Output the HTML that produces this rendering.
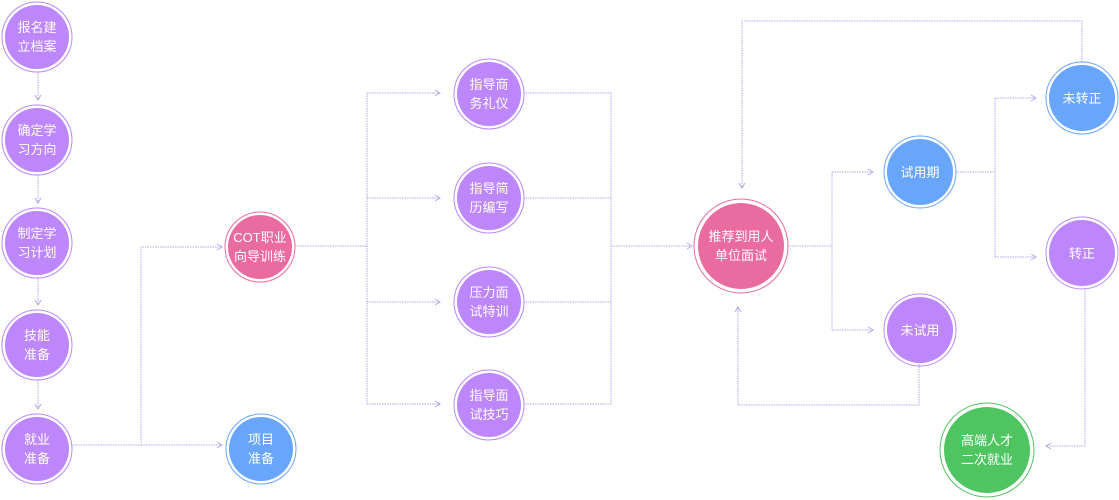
<!DOCTYPE html>
<html><head><meta charset="utf-8"><style>
html,body{margin:0;padding:0;background:#fff;width:1119px;height:500px;overflow:hidden}
text{font-family:"Liberation Sans","Noto Sans CJK SC",sans-serif;font-size:13px;fill:#fff;text-anchor:middle}
</style></head><body>
<svg width="1119" height="500" viewBox="0 0 1119 500">
<defs>
<marker id="a" markerWidth="8" markerHeight="8" refX="6" refY="4" orient="auto" markerUnits="userSpaceOnUse">
<polyline points="1,1 6,4 1,7" fill="none" stroke="#b3a6ee" stroke-width="1"/>
</marker>
</defs>
<g fill="none" stroke="#b3a6ee" stroke-width="1" stroke-dasharray="1.5,1">
<line x1="38" y1="72" x2="38" y2="100" marker-end="url(#a)"/>
<line x1="38" y1="175" x2="38" y2="203" marker-end="url(#a)"/>
<line x1="38" y1="278" x2="38" y2="305" marker-end="url(#a)"/>
<line x1="38" y1="380" x2="38" y2="409" marker-end="url(#a)"/>
<polyline points="73,445 141,445 141,247 222,247" marker-end="url(#a)"/>
<line x1="141" y1="445" x2="222" y2="445" marker-end="url(#a)"/>
<polyline points="295,246 367,246"/>
<line x1="367" y1="93" x2="367" y2="404"/>
<line x1="367" y1="93" x2="440" y2="93" marker-end="url(#a)"/>
<line x1="367" y1="198" x2="440" y2="198" marker-end="url(#a)"/>
<line x1="367" y1="302" x2="440" y2="302" marker-end="url(#a)"/>
<line x1="367" y1="404" x2="440" y2="404" marker-end="url(#a)"/>
<line x1="525" y1="93" x2="611" y2="93"/>
<line x1="525" y1="198" x2="611" y2="198"/>
<line x1="525" y1="302" x2="611" y2="302"/>
<line x1="525" y1="404" x2="611" y2="404"/>
<line x1="611" y1="93" x2="611" y2="404"/>
<line x1="611" y1="246" x2="692" y2="246" marker-end="url(#a)"/>
<line x1="787" y1="246" x2="832" y2="246"/>
<line x1="832" y1="172" x2="832" y2="330"/>
<line x1="832" y1="172" x2="873" y2="172" marker-end="url(#a)"/>
<line x1="832" y1="330" x2="873" y2="330" marker-end="url(#a)"/>
<line x1="955" y1="172" x2="995" y2="172"/>
<line x1="995" y1="98" x2="995" y2="257"/>
<line x1="995" y1="98" x2="1036" y2="98" marker-end="url(#a)"/>
<line x1="995" y1="257" x2="1036" y2="257" marker-end="url(#a)"/>
<polyline points="1082,62 1082,21 742,21 742,188" marker-end="url(#a)"/>
<polyline points="919,364 919,405 738,405 738,307" marker-end="url(#a)"/>
<polyline points="1085,288 1085,446 1046,446" marker-end="url(#a)"/>
</g>
<g stroke-width="1">
<g fill="#bd86fa" stroke="#bd86fa">
<circle cx="37" cy="37" r="35" fill="none"/><circle cx="37" cy="37" r="32" stroke="none"/>
<circle cx="37" cy="140" r="35" fill="none"/><circle cx="37" cy="140" r="32" stroke="none"/>
<circle cx="37" cy="243" r="35" fill="none"/><circle cx="37" cy="243" r="32" stroke="none"/>
<circle cx="37" cy="345" r="35" fill="none"/><circle cx="37" cy="345" r="32" stroke="none"/>
<circle cx="37" cy="449" r="35" fill="none"/><circle cx="37" cy="449" r="32" stroke="none"/>
<circle cx="489" cy="94" r="35" fill="none"/><circle cx="489" cy="94" r="32" stroke="none"/>
<circle cx="489" cy="198" r="35" fill="none"/><circle cx="489" cy="198" r="32" stroke="none"/>
<circle cx="489" cy="302" r="35" fill="none"/><circle cx="489" cy="302" r="32" stroke="none"/>
<circle cx="489" cy="405" r="35" fill="none"/><circle cx="489" cy="405" r="32" stroke="none"/>
<circle cx="920" cy="330" r="36" fill="none"/><circle cx="920" cy="330" r="33" stroke="none"/>
<circle cx="1082" cy="253" r="36" fill="none"/><circle cx="1082" cy="253" r="33" stroke="none"/>
</g>
<g fill="#e96ba0" stroke="#e96ba0">
<circle cx="260" cy="247" r="35" fill="none"/><circle cx="260" cy="247" r="32" stroke="none"/>
<circle cx="741" cy="246" r="47" fill="none"/><circle cx="741" cy="246" r="43" stroke="none"/>
</g>
<g fill="#67a6fb" stroke="#67a6fb">
<circle cx="261" cy="449" r="35" fill="none"/><circle cx="261" cy="449" r="32" stroke="none"/>
<circle cx="920" cy="172" r="36" fill="none"/><circle cx="920" cy="172" r="33" stroke="none"/>
<circle cx="1082" cy="98" r="36" fill="none"/><circle cx="1082" cy="98" r="33" stroke="none"/>
</g>
<g fill="#4fc562" stroke="#4fc562">
<circle cx="987" cy="450" r="47" fill="none"/><circle cx="987" cy="450" r="43" stroke="none"/>
</g>
</g>
<text x="37" y="32">报名建</text><text x="37" y="51">立档案</text>
<text x="37" y="135">确定学</text><text x="37" y="154">习方向</text>
<text x="37" y="238">制定学</text><text x="37" y="257">习计划</text>
<text x="37" y="340">技能</text><text x="37" y="359">准备</text>
<text x="37" y="444">就业</text><text x="37" y="463">准备</text>
<text x="260" y="242">COT职业</text><text x="260" y="261">向导训练</text>
<text x="261" y="444">项目</text><text x="261" y="463">准备</text>
<text x="489" y="89">指导商</text><text x="489" y="108">务礼仪</text>
<text x="489" y="193">指导简</text><text x="489" y="212">历编写</text>
<text x="489" y="297">压力面</text><text x="489" y="316">试特训</text>
<text x="489" y="400">指导面</text><text x="489" y="419">试技巧</text>
<text x="741" y="241">推荐到用人</text><text x="741" y="260">单位面试</text>
<text x="920" y="177">试用期</text>
<text x="920" y="335">未试用</text>
<text x="1082" y="103">未转正</text>
<text x="1082" y="258">转正</text>
<text x="987" y="445">高端人才</text><text x="987" y="464">二次就业</text>
</svg>
</body></html>
